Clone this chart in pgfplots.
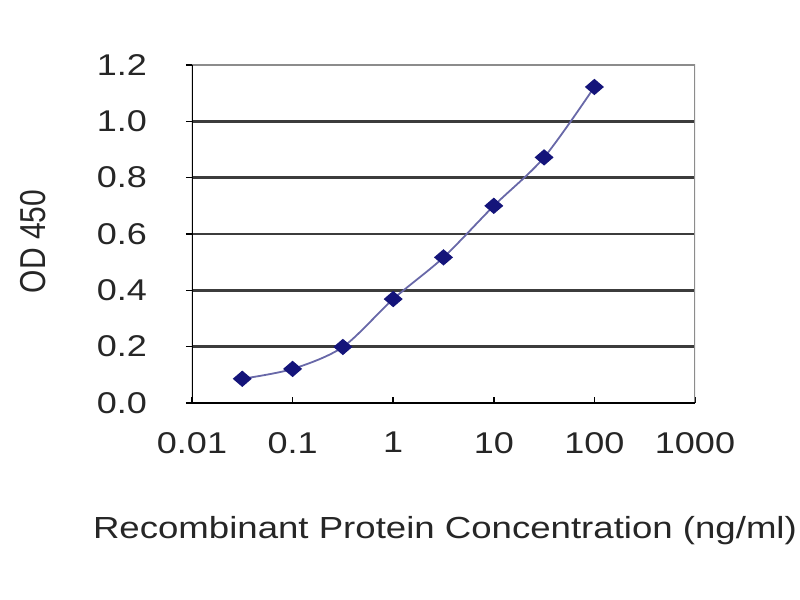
\documentclass[border=0pt]{standalone}
\usepackage{pgfplots}
\pgfplotsset{compat=1.18}
\usepackage{graphicx}
\usepackage{fontspec}
\setmainfont{Liberation Sans}[FakeStretch=1.2]
\newfontfamily\plainfont{Liberation Sans}
\definecolor{navy}{HTML}{14147A}
\definecolor{linec}{HTML}{6868A8}
\definecolor{gridc}{HTML}{3C3C3C}
\definecolor{framec}{HTML}{8C8C8C}
\definecolor{textc}{HTML}{262626}
\begin{document}
\begin{tikzpicture}
\path[use as bounding box] (-192bp,-197bp) rectangle (608bp,403bp);
\begin{axis}[
  at={(0,0)}, anchor=south west,
  scale only axis, width=503bp, height=338bp,
  xmode=log, xmin=0.01, xmax=1000, ymin=0, ymax=1.2,
  xtick={0.01,0.1,1,10,100,1000},
  xticklabels={0.01,0.1,1,10,100,1000},
  ytick={0,0.2,0.4,0.6,0.8,1.0,1.2},
  yticklabels={0.0,0.2,0.4,0.6,0.8,1.0,1.2},
  xminorticks=false,
  xtick pos=bottom, ytick pos=left,
  xtick align=inside, ytick align=outside,
  major tick length=6bp,
  tick style={black, line width=1.5bp},
  ymajorgrids,
  grid style={gridc, line width=2.5bp},
  axis line style={draw=none},
  every tick label/.append style={font=\fontsize{30bp}{36bp}\selectfont, text=textc},
  xticklabel style={anchor=north, inner sep=0pt, yshift=-29bp},
  yticklabel style={anchor=east, inner sep=0pt, xshift=-39bp},
  xlabel={Recombinant Protein Concentration (ng/ml)},
  xlabel style={at={(axis description cs:0.5,0)}, anchor=base, inner sep=0pt, yshift=-135bp, xshift=1.5bp, font=\fontsize{30.5bp}{36bp}\selectfont, text=textc},
  ylabel={\rotatebox{90}{\scalebox{1}[1.2]{\plainfont OD 450}}},
  every axis y label/.style={at={(axis description cs:0,0.5)}, anchor=east, inner sep=0pt, xshift=-146bp, yshift=-7.5bp, font=\fontsize{30bp}{36bp}\selectfont, text=textc},
]
\addplot[linec, line width=1.8bp, smooth, tension=0.5,
  mark=diamond*, mark size=7bp,
  mark options={solid, draw=navy, fill=navy, xscale=1.55}]
  coordinates {
  (0.0316,0.086) (0.1,0.121) (0.3162,0.199) (1,0.369)
  (3.162,0.517) (10,0.700) (31.62,0.872) (100,1.122)
  };
\draw[framec, line width=2.5bp] (rel axis cs:0,1) -- (rel axis cs:1,1) -- (rel axis cs:1,0);
\draw[black, line width=2.5bp] (rel axis cs:0,1) -- (rel axis cs:0,0) -- (rel axis cs:1,0);
\end{axis}
\end{tikzpicture}
\end{document}
